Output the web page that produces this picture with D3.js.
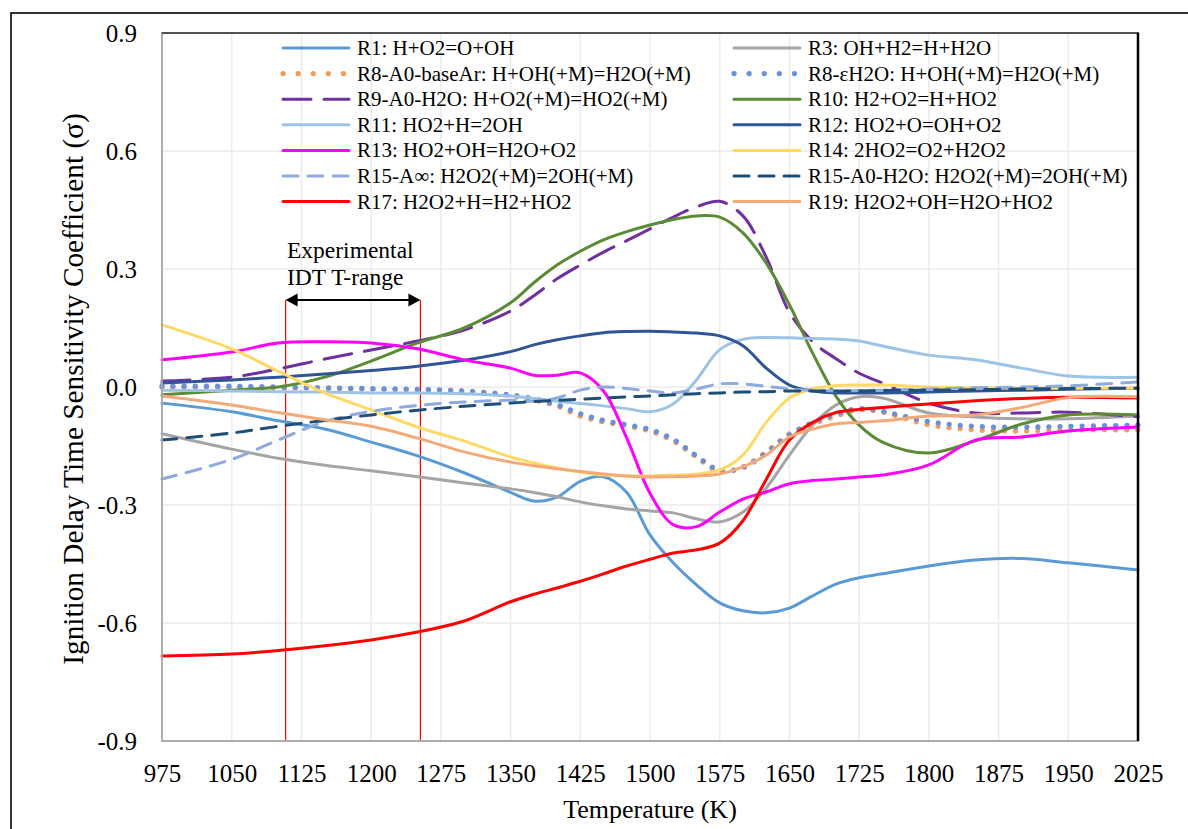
<!DOCTYPE html>
<html>
<head>
<meta charset="utf-8">
<script src="https://cdn.jsdelivr.net/npm/d3@7"></script>
<style>
  html, body { margin: 0; padding: 0; background: #fff; }
  svg { display: block; }
  text { font-family: "Liberation Serif", "Times New Roman", serif; fill: #000; }
</style>
</head>
<body>
<svg id="chart" width="1188" height="829"></svg>
<script>
// Temperature grid (K) shared by all sensitivity series
const temps = [975, 1050, 1100, 1150, 1200, 1250, 1300, 1350, 1375, 1400, 1425, 1450, 1475, 1500, 1525,
               1550, 1575, 1600, 1625, 1650, 1675, 1700, 1725, 1750, 1800, 1850, 1900, 1950, 2025];

// Ignition delay time sensitivity coefficients per reaction
const r1  = [-0.041, -0.063, -0.086, -0.107, -0.140, -0.175, -0.218, -0.268, -0.290, -0.280, -0.240, -0.228, -0.268, -0.376, -0.447,
             -0.503, -0.549, -0.569, -0.574, -0.562, -0.531, -0.501, -0.485, -0.475, -0.455, -0.440, -0.436, -0.447, -0.465];
const r3  = [-0.119, -0.158, -0.181, -0.199, -0.213, -0.228, -0.244, -0.259, -0.268, -0.279, -0.292, -0.302, -0.310, -0.315, -0.320,
             -0.335, -0.343, -0.318, -0.257, -0.173, -0.097, -0.046, -0.025, -0.028, -0.066, -0.076, -0.081, -0.081, -0.074];
const r8base = [0.000, 0.000, -0.002, -0.003, -0.005, -0.007, -0.010, -0.022, -0.033, -0.048, -0.074, -0.089, -0.099, -0.112, -0.137,
             -0.178, -0.215, -0.203, -0.165, -0.119, -0.094, -0.074, -0.058, -0.064, -0.096, -0.109, -0.112, -0.109, -0.109];
const r8h2o = [0.002, 0.002, 0.000, -0.002, -0.004, -0.006, -0.010, -0.020, -0.030, -0.045, -0.068, -0.085, -0.096, -0.108, -0.133,
             -0.175, -0.212, -0.205, -0.168, -0.122, -0.090, -0.068, -0.055, -0.062, -0.088, -0.100, -0.102, -0.100, -0.097];
const r9  = [0.015, 0.025, 0.046, 0.071, 0.094, 0.117, 0.145, 0.193, 0.232, 0.275, 0.310, 0.343, 0.372, 0.402, 0.432,
             0.458, 0.472, 0.435, 0.330, 0.190, 0.115, 0.072, 0.035, 0.010, -0.041, -0.066, -0.066, -0.064, -0.076];
const r10 = [-0.020, -0.008, 0.000, 0.025, 0.066, 0.112, 0.150, 0.214, 0.265, 0.310, 0.345, 0.374, 0.395, 0.412, 0.426,
             0.435, 0.432, 0.392, 0.315, 0.209, 0.086, -0.023, -0.097, -0.140, -0.168, -0.137, -0.094, -0.071, -0.071];
const r11 = [-0.008, -0.010, -0.012, -0.013, -0.015, -0.015, -0.017, -0.023, -0.029, -0.036, -0.042, -0.048, -0.055, -0.063, -0.043,
             0.018, 0.095, 0.121, 0.126, 0.125, 0.123, 0.122, 0.117, 0.104, 0.081, 0.069, 0.048, 0.028, 0.025];
const r12 = [0.010, 0.018, 0.025, 0.033, 0.042, 0.053, 0.068, 0.090, 0.107, 0.120, 0.130, 0.138, 0.141, 0.142, 0.140,
             0.137, 0.130, 0.105, 0.048, 0.005, -0.010, -0.015, -0.015, -0.015, -0.013, -0.010, -0.008, -0.006, -0.003];
const r13 = [0.069, 0.089, 0.112, 0.115, 0.112, 0.097, 0.069, 0.048, 0.030, 0.030, 0.036, -0.010, -0.130, -0.270, -0.350,
             -0.355, -0.318, -0.285, -0.267, -0.246, -0.238, -0.234, -0.229, -0.224, -0.198, -0.135, -0.127, -0.112, -0.102];
const r14 = [0.158, 0.097, 0.040, -0.015, -0.058, -0.102, -0.137, -0.178, -0.193, -0.206, -0.216, -0.224, -0.226, -0.226, -0.224,
             -0.221, -0.211, -0.173, -0.090, -0.028, -0.005, 0.003, 0.005, 0.005, 0.000, -0.002, -0.003, -0.003, -0.003];
const r15inf = [-0.234, -0.184, -0.135, -0.088, -0.062, -0.047, -0.038, -0.034, -0.036, -0.028, -0.008, 0.000, -0.004, -0.010, -0.015,
             -0.005, 0.008, 0.008, 0.002, -0.005, -0.008, -0.010, -0.009, -0.008, -0.005, -0.002, 0.000, 0.003, 0.013];
const r15h2o = [-0.135, -0.117, -0.100, -0.085, -0.071, -0.059, -0.049, -0.041, -0.037, -0.034, -0.031, -0.028, -0.025, -0.023, -0.020,
             -0.017, -0.015, -0.013, -0.012, -0.010, -0.010, -0.010, -0.010, -0.009, -0.008, -0.007, -0.005, -0.004, -0.003];
const r17 = [-0.684, -0.679, -0.670, -0.658, -0.643, -0.623, -0.595, -0.546, -0.527, -0.511, -0.494, -0.475, -0.455, -0.438, -0.422,
             -0.414, -0.397, -0.340, -0.235, -0.135, -0.090, -0.065, -0.057, -0.052, -0.043, -0.035, -0.029, -0.026, -0.028];
const r19 = [-0.023, -0.046, -0.065, -0.083, -0.100, -0.130, -0.165, -0.191, -0.200, -0.208, -0.215, -0.221, -0.226, -0.229, -0.228,
             -0.226, -0.221, -0.203, -0.173, -0.127, -0.107, -0.094, -0.090, -0.086, -0.074, -0.071, -0.052, -0.027, -0.025];

// Series labels, in legend order (row by row, two columns)
const labels = [
  "R1: H+O2=O+OH", "R3: OH+H2=H+H2O",
  "R8-A0-baseAr: H+OH(+M)=H2O(+M)", "R8-εH2O: H+OH(+M)=H2O(+M)",
  "R9-A0-H2O: H+O2(+M)=HO2(+M)", "R10: H2+O2=H+HO2",
  "R11: HO2+H=2OH", "R12: HO2+O=OH+O2",
  "R13: HO2+OH=H2O+O2", "R14: 2HO2=O2+H2O2",
  "R15-A∞: H2O2(+M)=2OH(+M)", "R15-A0-H2O: H2O2(+M)=2OH(+M)",
  "R17: H2O2+H=H2+HO2", "R19: H2O2+OH=H2O+HO2"
];
const values = [r1, r3, r8base, r8h2o, r9, r10, r11, r12, r13, r14, r15inf, r15h2o, r17, r19];
const colors = ["#5b9bd5", "#a5a5a5", "#f19b5f", "#6a90d8", "#7030a0", "#5b8b35", "#9dc3e6",
                "#2f5597", "#ff00ff", "#ffd966", "#8faadc", "#1f4e79", "#ff0000", "#f4aa78"];
const dashes = [null, null, "0.1 11", "0.1 11", "28 13", null, null,
                null, null, null, "15 10", "15 10", null, null];

// Axis ticks and the experimental IDT temperature window
const xTicks = [975, 1050, 1125, 1200, 1275, 1350, 1425, 1500, 1575, 1650, 1725, 1800, 1875, 1950, 2025];
const yTicks = [-0.9, -0.6, -0.3, 0.0, 0.3, 0.6, 0.9];
const expRange = [1108, 1253];

const svg = d3.select("#chart");
const L = 162, R = 1138, T = 33, B = 741;

const x = d3.scaleLinear().domain([975, 2025]).range([L, R]);
const y = d3.scaleLinear().domain([-0.9, 0.9]).range([B, T]);

const isDotted = k => dashes[k] && dashes[k].startsWith("0.1");

// outer chart frame
svg.append("rect").attr("x", 11).attr("y", 13).attr("width", 1300).attr("height", 1000)
  .attr("fill", "none").attr("stroke", "#000").attr("stroke-width", 1.6);

// gridlines
const grid = svg.append("g");
grid.selectAll("line.v").data(xTicks).join("line")
  .attr("x1", d => x(d)).attr("x2", d => x(d)).attr("y1", T).attr("y2", B)
  .attr("stroke", "#ebebeb").attr("stroke-width", 1.5);
grid.selectAll("line.h").data(yTicks).join("line")
  .attr("x1", L).attr("x2", R).attr("y1", d => y(d)).attr("y2", d => y(d))
  .attr("stroke", "#ebebeb").attr("stroke-width", 1.5);

// axes (labels only, frame drawn separately)
const fmt = d3.format(".1f");
const xAxis = svg.append("g").attr("transform", `translate(0,${B})`)
  .call(d3.axisBottom(x).tickValues(xTicks).tickSize(0).tickPadding(0).tickFormat(d3.format("d")));
xAxis.select(".domain").remove();
xAxis.selectAll("text").attr("y", 41).attr("dy", null)
  .style("font-size", "25px").style("font-family", "'Liberation Serif', serif").attr("fill", "#000");

const yAxis = svg.append("g").attr("transform", `translate(${L},0)`)
  .call(d3.axisLeft(y).tickValues(yTicks).tickSize(0).tickPadding(25).tickFormat(d => fmt(d).replace("−", "-")));
yAxis.select(".domain").remove();
yAxis.selectAll("text").attr("dy", "0.34em")
  .style("font-size", "25px").style("font-family", "'Liberation Serif', serif").attr("fill", "#000");

// axis titles
svg.append("text").attr("transform", "translate(83,389) rotate(-90)")
  .attr("text-anchor", "middle").style("font-size", "29.3px")
  .text("Ignition Delay Time Sensitivity Coefficient (σ)");
svg.append("text").attr("x", (L + R) / 2).attr("y", 818)
  .attr("text-anchor", "middle").style("font-size", "26px").text("Temperature (K)");

// experimental temperature window markers
svg.selectAll("line.exp").data(expRange).join("line")
  .attr("x1", d => x(d)).attr("x2", d => x(d)).attr("y1", 300).attr("y2", B)
  .attr("stroke", "#ff0000").attr("stroke-width", 1.2);

// curves
const line = d3.line().curve(d3.curveCatmullRom.alpha(0.5))
  .x((d, i) => x(temps[i])).y(d => y(d));
const curves = svg.append("g");
values.forEach((vals, k) => {
  curves.append("path").attr("d", line(vals))
    .attr("fill", "none").attr("stroke", colors[k])
    .attr("stroke-width", isDotted(k) ? 5.2 : 3)
    .attr("stroke-linecap", "round")
    .attr("stroke-dasharray", dashes[k]);
});

// plot area frame
svg.append("rect").attr("x", L).attr("y", T).attr("width", R - L).attr("height", B - T)
  .attr("fill", "none").attr("stroke", "#a6a6a6").attr("stroke-width", 1.8);
svg.append("line").attr("x1", L).attr("x2", R + 1).attr("y1", T).attr("y2", T)
  .attr("stroke", "#333").attr("stroke-width", 1.6);
svg.append("line").attr("x1", R).attr("x2", R).attr("y1", T).attr("y2", B)
  .attr("stroke", "#000").attr("stroke-width", 2.5);

// annotation: experimental IDT T-range
svg.append("text").attr("x", 287).attr("y", 258).style("font-size", "23.5px").text("Experimental");
svg.append("text").attr("x", 287).attr("y", 285).style("font-size", "23.5px").text("IDT T-range");
const ax0 = x(expRange[0]), ax1 = x(expRange[1]), ay = 300;
svg.append("line").attr("x1", ax0 + 6).attr("x2", ax1 - 6).attr("y1", ay).attr("y2", ay)
  .attr("stroke", "#000").attr("stroke-width", 1.8);
svg.append("path").attr("d", `M${ax0},${ay} L${ax0 + 12},${ay - 6.5} L${ax0 + 12},${ay + 6.5} Z`).attr("fill", "#000");
svg.append("path").attr("d", `M${ax1},${ay} L${ax1 - 12},${ay - 6.5} L${ax1 - 12},${ay + 6.5} Z`).attr("fill", "#000");

// legend
const legend = svg.append("g");
labels.forEach((lab, k) => {
  const col = k % 2, row = Math.floor(k / 2);
  const lx = col === 0 ? 281 : 732;
  const ly = 48 + row * 25.6;
  legend.append("line").attr("x1", lx + 2).attr("x2", lx + 68).attr("y1", ly).attr("y2", ly)
    .attr("stroke", colors[k])
    .attr("stroke-width", isDotted(k) ? 5.2 : 3)
    .attr("stroke-linecap", "round")
    .attr("stroke-dasharray", isDotted(k) ? "0.1 15" : dashes[k]);
  legend.append("text").attr("x", lx + 76).attr("y", ly + 7).style("font-size", "21px").text(lab);
});
</script>
</body>
</html>
